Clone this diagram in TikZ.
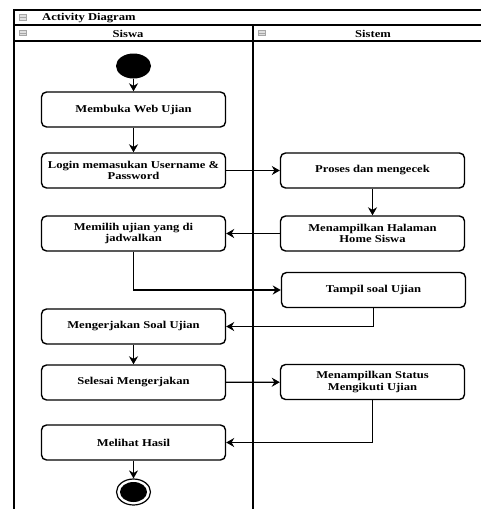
\documentclass[tikz,border=0pt]{standalone}
\usepackage{fontspec}
\setmainfont{Liberation Serif}[FakeStretch=1.2]
\usetikzlibrary{arrows.meta,shapes.geometric}

\tikzset{
    act/.style={draw, line width=1.4pt, rounded corners=5pt, minimum width=184pt,
        minimum height=35pt, align=center, inner sep=1pt,
        font=\bfseries\fontsize{10.5}{11.5}\selectfont},
    flow/.style={-{Stealth[length=8pt, width=9pt]}, line width=1.3pt},
    lane/.style={line width=1.6pt},
    hdr/.style={font=\bfseries\fontsize{10.5}{10}\selectfont, inner sep=0pt},
    fold/.style={draw=gray!70, fill=gray!25, line width=0.6pt, minimum width=7pt,
        minimum height=5.5pt, inner sep=0pt,
        path picture={\draw[gray!70, line width=0.6pt]
            (path picture bounding box.west) -- (path picture bounding box.east);}},
}

\begin{document}
\begin{tikzpicture}[x=1pt, y=-1pt]
    \useasboundingbox (0, 0) rectangle (481, 509);

    % swimlane frame
    \draw[lane] (481, 10) -- (14, 10) -- (14, 509);
    \draw[lane] (14, 25) -- (481, 25);
    \draw[lane] (14, 41) -- (481, 41);
    \draw[lane] (253, 25) -- (253, 509);

    \node[fold] (foldmain) at (23, 17.5) {};
    \node[fold] (foldsiswa) at (23, 33) {};
    \node[fold] (foldsistem) at (262, 33) {};
    \node[hdr, anchor=west] (title) at (42, 18) {Activity Diagram};
    \node[hdr] (siswa) at (128, 33.5) {Siswa};
    \node[hdr] (sistem) at (373, 33.5) {Sistem};

    % activities
    \node[ellipse, fill=black, minimum width=35pt, minimum height=25pt, inner sep=0pt] (start) at (133.5, 66) {};
    \node[act] (web) at (133.5, 109.5) {Membuka Web Ujian};
    \node[act] (login) at (133.5, 170.5) {Login memasukan Username \&\\Password};
    \node[act] (proses) at (372.5, 170.5) {Proses dan mengecek};
    \node[act] (home) at (372.5, 233.5) {Menampilkan Halaman\\Home Siswa};
    \node[act] (pilih) at (133.5, 233.5) {Memilih ujian yang di\\jadwalkan};
    \node[act] (tampil) at (373.5, 290) {Tampil soal Ujian};
    \node[act] (kerja) at (133.5, 326.5) {Mengerjakan Soal Ujian};
    \node[act] (selesai) at (133.5, 382.5) {Selesai Mengerjakan};
    \node[act] (status) at (372.5, 382) {Menampilkan Status\\Mengikuti Ujian};
    \node[act] (hasil) at (133.5, 442.5) {Melihat Hasil};
    \node[ellipse, draw, line width=1.2pt, minimum width=34pt, minimum height=26pt, inner sep=0pt] (stop) at (133.5, 492) {};
    \fill (stop.center) ellipse [x radius=13.5pt, y radius=10pt];

    % flows
    \draw[flow] (start) -- (web);
    \draw[flow] (web) -- (login);
    \draw[flow] (login) -- (proses);
    \draw[flow] (proses) -- (home);
    \draw[flow] (home) -- (pilih);
    \draw[flow] (pilih.south) |- (tampil.west);
    \draw[flow] (tampil.south) |- (kerja.east);
    \draw[flow] (kerja) -- (selesai);
    \draw[flow] (selesai) -- (status);
    \draw[flow] (status.south) |- (hasil.east);
    \draw[flow] (hasil) -- (stop);
\end{tikzpicture}
\end{document}
